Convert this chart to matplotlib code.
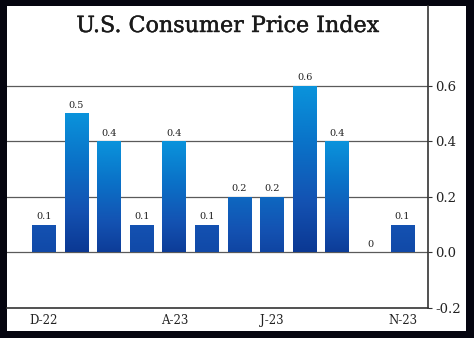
import matplotlib.pyplot as plt
import matplotlib.patheffects as pe
import numpy as np
from matplotlib.colors import LinearSegmentedColormap
from matplotlib.patches import Rectangle

months = ['D-22', 'J-23', 'F-23', 'M-23', 'A-23', 'M-23', 'J-23',
          'J-23', 'A-23', 'S-23', 'O-23', 'N-23']
cpi_change = [0.1, 0.5, 0.4, 0.1, 0.4, 0.1, 0.2, 0.2, 0.6, 0.4, 0.0, 0.1]
shown_ticks = [0, 4, 7, 11]
y_ticks = [-0.2, 0.0, 0.2, 0.4, 0.6]

W, H = 474, 338
fig = plt.figure(figsize=(W / 100, H / 100), dpi=100)
fig.patch.set_facecolor('#05050f')

# white panel inside the black frame
fig.patches.append(Rectangle((7 / W, 1 - 331 / H), (466 - 7) / W, (331 - 6) / H,
                             transform=fig.transFigure, facecolor='white',
                             edgecolor='none', zorder=-10))

ax = fig.add_axes([7 / W, 1 - 308 / H, (428 - 7) / W, (308 - 6) / H])
ax.set_facecolor('white')

x = np.arange(len(cpi_change))
bars = ax.bar(x, cpi_change, width=0.73, color='none', edgecolor='none', zorder=3)

# vertical blue gradient per bar: taller bars get a brighter top and darker base
cmap = LinearSegmentedColormap.from_list(
    'cpi', [(0, '#0b3893'), (0.3, '#1452b2'), (0.65, '#0a72c8'), (1, '#0a94dc')])
for b, v in zip(bars, cpi_change):
    if v <= 0:
        continue
    x0 = b.get_x()
    top = min(0.3 + (v - 0.1) * 2.4, 1.0)
    base = max(0.2 - (v - 0.1) * 0.5, 0.0)
    grad = np.linspace(base, top, 256).reshape(-1, 1)
    img = ax.imshow(grad, cmap=cmap, vmin=0, vmax=1, aspect='auto',
                    origin='lower', extent=[x0, x0 + b.get_width(), 0, v],
                    zorder=3, interpolation='bilinear')
    img.set_clip_path(b)

for xi, v in zip(x, cpi_change):
    ax.text(xi, v + 0.012, f'{v:g}', ha='center', va='bottom',
            fontsize=7, family='DejaVu Serif', color='#222222', zorder=4)

ax.set_xlim(-1.13, 11.78)
ax.set_ylim(-0.2, 0.886)

for yv in [0.0, 0.2, 0.4, 0.6]:
    ax.axhline(yv, color='#5a5a5a', lw=0.9, zorder=2)

for s in ['left', 'top']:
    ax.spines[s].set_visible(False)
ax.spines['right'].set_color('#333333')
ax.spines['right'].set_linewidth(1.2)
ax.spines['bottom'].set_color('#333333')
ax.spines['bottom'].set_linewidth(1.2)

ax.yaxis.tick_right()
ax.set_yticks(y_ticks)
ax.set_yticklabels([f'{t:.1f}' for t in y_ticks], family='DejaVu Serif', fontsize=9.5)
ax.tick_params(axis='y', length=3, color='#333333', pad=2, labelcolor='#222222')

ax.set_xticks(shown_ticks)
ax.set_xticklabels([months[i] for i in shown_ticks], family='DejaVu Serif', fontsize=8.5)
ax.tick_params(axis='x', length=0, pad=4, labelcolor='#222222')

fig.text(228 / W, 1 - 26 / H, 'U.S. Consumer Price Index', ha='center', va='center',
         fontsize=16, family='DejaVu Serif', color='#1a1a1a',
         path_effects=[pe.withStroke(linewidth=0.3, foreground='#1a1a1a')])

fig.savefig('out.png', dpi=100, facecolor=fig.get_facecolor())
